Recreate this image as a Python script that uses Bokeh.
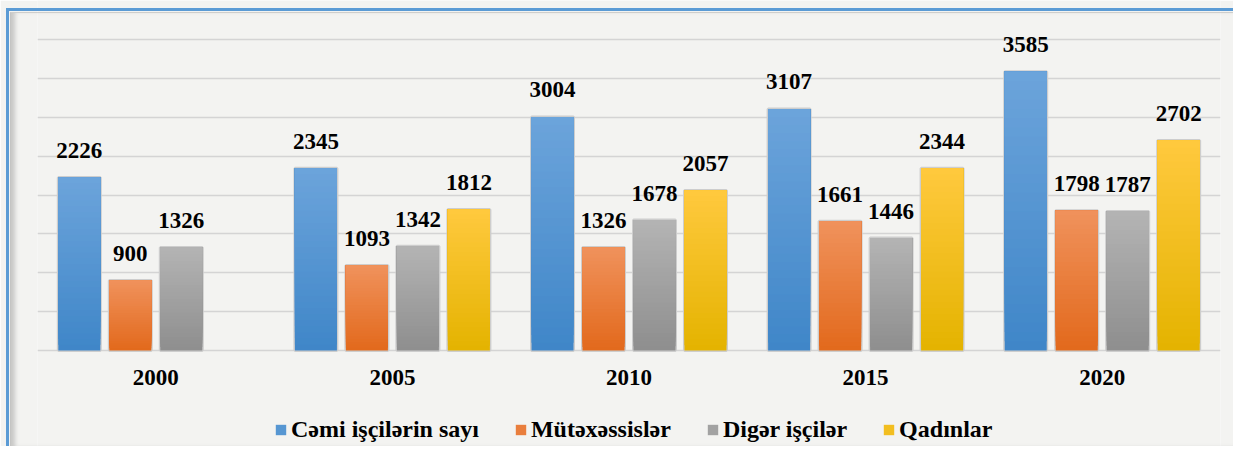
from bokeh.plotting import figure
from bokeh.models import (ColumnDataSource, FactorRange, Range1d, Legend, LegendItem,
                          SingleIntervalTicker, InlineStyleSheet)
from bokeh.transform import dodge
from bokeh.core.properties import value
from bokeh.embed import file_html
from bokeh.resources import INLINE
import math

# ---- data ----
years = ["2000", "2005", "2010", "2015", "2020"]
cemi = [2226, 2345, 3004, 3107, 3585]
mutexessis = [900, 1093, 1326, 1661, 1798]
diger = [1326, 1342, 1678, 1446, 1787]
qadinlar = [float("nan"), 1812, 2057, 2344, 2702]
series_names = ["Cəmi işçilərin sayı", "Mütəxəssislər", "Digər işçilər", "Qadınlar"]

# ---- style ----
grad = [("#3f86c8", "#6ca4db"), ("#e2691c", "#f0925c"), ("#8e8e8e", "#b4b4b4"), ("#e4b300", "#ffc93e")]
FONT = "Liberation Serif"
slot = 0.2155
bar_w = 0.1775
N = 30
GRID_MAX = 4000
Y_TOP = 4502    # room above the top gridline for value labels
Y_MIN = -1235   # room below the baseline for category labels and legend

p = figure(x_range=FactorRange(*years), y_range=Range1d(Y_MIN, Y_TOP),
           width=1233, height=446, output_backend="svg", toolbar_location=None,
           min_border_left=37, min_border_right=13, min_border_top=0, min_border_bottom=0)
p.background_fill_color = "#f3f3f1"
p.border_fill_color = "#f3f3f1"
p.outline_line_color = None
p.yaxis.visible = False
p.xaxis.visible = False
p.xgrid.grid_line_color = None
p.ygrid.ticker = SingleIntervalTicker(interval=500)
p.ygrid.bounds = (0, GRID_MAX)
p.ygrid.grid_line_color = "#d4d4d4"
p.ygrid.grid_line_width = 1.5

all_series = [cemi, mutexessis, diger, qadinlar]
legend_items = []


def mix(c1, c2, t):
    a = [int(c1[i:i + 2], 16) for i in (1, 3, 5)]
    b = [int(c2[i:i + 2], 16) for i in (1, 3, 5)]
    return "#%02x%02x%02x" % tuple(round(a[j] + (b[j] - a[j]) * t) for j in range(3))


for i, vals in enumerate(all_series):
    off = (i - 1.5) * slot
    xs = [y for y, v in zip(years, vals) if not math.isnan(v)]
    vs = [v for v in vals if not math.isnan(v)]
    src = ColumnDataSource(dict(x=xs, top=vs, label=[str(int(v)) for v in vs]))
    # soft outline around each bar
    p.vbar(x=dodge("x", off, range=p.x_range), top="top", width=bar_w, source=src,
           fill_color=None, line_color="#cdcdcd", line_width=3)
    mid_r = None
    for k in range(N):
        t = (k + 0.5) / N
        c = mix(grad[i][0], grad[i][1], t)
        seg = ColumnDataSource(dict(x=xs, top=vs, bottom=[v * k / N for v in vs]))
        r = p.vbar(x=dodge("x", off, range=p.x_range), top="top", bottom="bottom",
                   width=bar_w, source=seg, fill_color=c, line_color=None)
        if k == N // 2:
            mid_r = r
    legend_items.append(LegendItem(label=series_names[i], renderers=[mid_r]))
    p.text(x=dodge("x", off, range=p.x_range), y="top", text="label", source=src,
           text_align="center", text_baseline="alphabetic", y_offset=-27,
           text_font=value(FONT), text_font_style="bold", text_font_size="23px",
           text_color="black")

# category labels under the baseline
cat_src = ColumnDataSource(dict(x=years, y=[0] * len(years), t=years))
p.text(x="x", y="y", text="t", source=cat_src, text_align="center",
       text_baseline="alphabetic", y_offset=27,
       text_font=value(FONT), text_font_style="bold", text_font_size="23px",
       text_color="black")

legend = Legend(items=legend_items, orientation="horizontal", location=(237, 3))
legend.label_text_font = FONT
legend.label_text_font_style = "bold"
legend.label_text_font_size = "24px"
legend.label_text_color = "black"
legend.glyph_width = 13
legend.glyph_height = 13
legend.label_standoff = 4
legend.spacing = 35
legend.padding = 0
legend.margin = 0
legend.border_line_color = None
legend.background_fill_alpha = 0
p.add_layout(legend, "center")

# decorative frame (blue edge and grey inner shading), drawn over the canvas
p.stylesheets = [InlineStyleSheet(css="""
:host { position: relative; }
:host::after { content: ""; position: absolute; left: 6px; top: 8px; right: 0; bottom: 0;
  border-left: 3px solid #5b9bd5; border-top: 3px solid #5b9bd5;
  pointer-events: none; z-index: 10; }
:host::before { content: ""; position: absolute; left: 10px; top: 12px; right: 0; bottom: 0;
  border-left: 1px solid rgba(150,150,150,0.5); border-top: 1px solid rgba(150,150,150,0.4);
  box-shadow: inset 6px 0 4px -2px rgba(120,120,120,0.35);
  pointer-events: none; z-index: 10; }
""")]

open("out.html", "w").write(file_html(p, INLINE))
